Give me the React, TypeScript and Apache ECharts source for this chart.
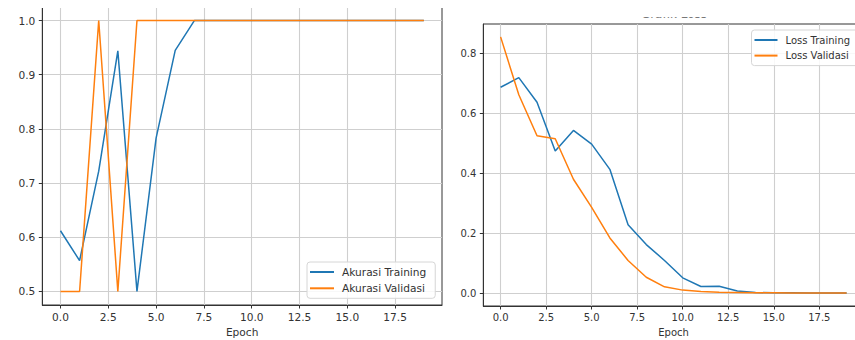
import React, { useEffect, useRef } from 'react';
import * as echarts from 'echarts';

const epochs = [0, 1, 2, 3, 4, 5, 6, 7, 8, 9, 10, 11, 12, 13, 14, 15, 16, 17, 18, 19];
const accTraining = [0.612, 0.557, 0.722, 0.944, 0.5, 0.783, 0.945, 1, 1, 1, 1, 1, 1, 1, 1, 1, 1, 1, 1, 1];
const accValidation = [0.5, 0.5, 1, 0.5, 1, 1, 1, 1, 1, 1, 1, 1, 1, 1, 1, 1, 1, 1, 1, 1];
const lossTraining = [0.687, 0.719, 0.637, 0.474, 0.543, 0.497, 0.413, 0.228, 0.162, 0.109, 0.051, 0.022, 0.023, 0.007, 0.002, 0.001, 0.001, 0.0005, 0.0003, 0.0002];
const lossValidation = [0.855, 0.662, 0.525, 0.515, 0.38, 0.286, 0.184, 0.109, 0.053, 0.021, 0.01, 0.005, 0.003, 0.002, 0.001, 0.001, 0.0005, 0.0003, 0.0002, 0.0001];
const xTicks = [0, 2.5, 5, 7.5, 10, 12.5, 15, 17.5];
const accTicks = [0.5, 0.6, 0.7, 0.8, 0.9, 1.0];
const lossTicks = [0, 0.2, 0.4, 0.6, 0.8];

const FONT = 'DejaVu Sans';
const FS_L = 10.6;
const FS_R = 10;
const TXT = '#333';
const SPINE = '#333';
const GRID = '#cfcfcf';
const BLUE = '#1f77b4';
const ORANGE = '#ff7f0e';

const pairs = (ys: number[]) => epochs.map((x, i) => [x, ys[i]]);

function xAxisCfg(gridIndex: number, fs: number) {
  return {
    type: 'value',
    gridIndex,
    min: -0.95,
    max: 19.95,
    name: 'Epoch',
    nameLocation: 'middle',
    nameGap: 21,
    nameTextStyle: { fontFamily: FONT, fontSize: fs, color: TXT },
    axisLine: { show: true, onZero: false, lineStyle: { color: SPINE, width: 1 } },
    axisTick: { show: true, length: 3.5, customValues: xTicks, lineStyle: { color: SPINE, width: 1 } },
    axisLabel: {
      show: true,
      customValues: xTicks,
      margin: 6,
      fontFamily: FONT,
      fontSize: fs,
      color: TXT,
      formatter: (v: number) => v.toFixed(1),
    },
    splitLine: { show: true, lineStyle: { color: GRID, width: 1.1 } },
  };
}

function yAxisCfg(gridIndex: number, min: number, max: number, ticks: number[], fs: number) {
  return {
    type: 'value',
    gridIndex,
    min,
    max,
    axisLine: { show: true, onZero: false, lineStyle: { color: SPINE, width: 1 } },
    axisTick: { show: true, length: 3.5, customValues: ticks, lineStyle: { color: SPINE, width: 1 } },
    axisLabel: {
      show: true,
      customValues: ticks,
      margin: 7,
      fontFamily: FONT,
      fontSize: fs,
      color: TXT,
      formatter: (v: number) => v.toFixed(1),
    },
    splitLine: { show: true, lineStyle: { color: GRID, width: 1.1 } },
  };
}

function legendCfg(left: number, top: number, names: string[], gap: number, fs: number, iw: number, padRight: number) {
  return {
    orient: 'vertical',
    left,
    top,
    data: names,
    icon: 'rect',
    itemWidth: iw,
    itemHeight: 2,
    itemGap: gap,
    padding: [4, padRight, 4, 3],
    backgroundColor: 'rgba(255,255,255,0.85)',
    borderColor: '#d6d6d6',
    borderWidth: 1,
    borderRadius: 3,
    textStyle: { fontFamily: FONT, fontSize: fs, color: TXT, lineHeight: 12, padding: [0, 0, 0, 3] },
  };
}

export default function App() {
  const ref = useRef<HTMLDivElement>(null);
  useEffect(() => {
    if (!ref.current) return;
    const chart = echarts.init(ref.current, null, { renderer: 'svg' });
    const lineSeries = (name: string, data: number[], color: string, idx: number) => ({
      type: 'line',
      name,
      xAxisIndex: idx,
      yAxisIndex: idx,
      data: pairs(data),
      showSymbol: false,
      symbol: 'none',
      lineStyle: { color, width: 1.5 },
      itemStyle: { color },
    });
    chart.setOption({
      animation: false,
      backgroundColor: '#ffffff',
      title: {
        text: 'Grafik Loss',
        left: 674,
        top: 8,
        textAlign: 'center',
        padding: 0,
        textStyle: { fontFamily: FONT, fontSize: 12, fontWeight: 'normal', color: '#777' },
      },
      grid: [
        { left: 42.3, top: 7, width: 399.7, height: 298, show: true, borderColor: SPINE, borderWidth: 1, backgroundColor: 'transparent', outerBoundsMode: 'none', containLabel: false },
        { left: 483.3, top: 24, width: 380.6, height: 282, show: true, borderColor: SPINE, borderWidth: 1, backgroundColor: 'transparent', outerBoundsMode: 'none', containLabel: false },
      ],
      xAxis: [xAxisCfg(0, FS_L), xAxisCfg(1, FS_R)],
      yAxis: [yAxisCfg(0, 0.475, 1.025, accTicks, FS_L), yAxisCfg(1, -0.043, 0.898, lossTicks, FS_R)],
      legend: [
        legendCfg(307, 262, ['Akurasi Training', 'Akurasi Validasi'], 4.3, FS_L, 24, 9),
        legendCfg(751.5, 30, ['Loss Training', 'Loss Validasi'], 3.6, FS_R, 23, 16),
      ],
      series: [
        lineSeries('Akurasi Training', accTraining, BLUE, 0),
        lineSeries('Akurasi Validasi', accValidation, ORANGE, 0),
        lineSeries('Loss Training', lossTraining, BLUE, 1),
        lineSeries('Loss Validasi', lossValidation, ORANGE, 1),
      ],
      graphic: [
        { type: 'rect', z: 100, shape: { x: 0, y: 0, width: 448, height: 8 }, style: { fill: '#ffffff' } },
        { type: 'rect', z: 100, shape: { x: 600, y: 0, width: 160, height: 17 }, style: { fill: '#ffffff' } },
      ],
    });
    return () => chart.dispose();
  }, []);
  return (
    <div style={{ position: 'absolute', left: 0, top: 0, width: 855, height: 340, overflow: 'hidden', background: '#fff' }}>
      <div ref={ref} style={{ width: 900, height: 340 }} />
    </div>
  );
}
